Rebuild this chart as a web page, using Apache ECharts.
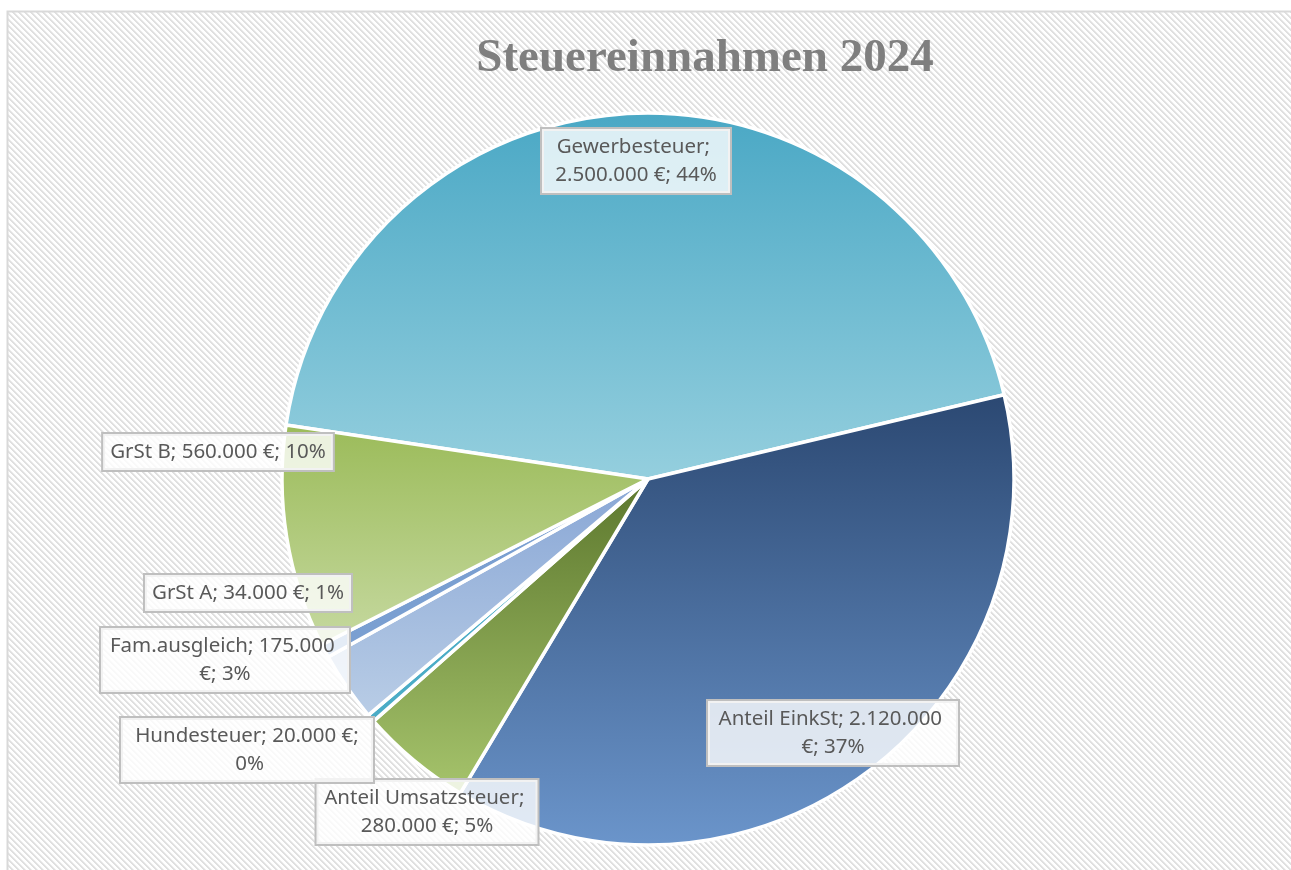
<html>
<head>
    <meta charset="utf-8" />
    <title>Steuereinnahmen 2024</title>
    <script src="https://cdn.jsdelivr.net/npm/echarts@6/dist/echarts.min.js"></script>
    <style>
        html, body { margin: 0; padding: 0; background: #fff; }
    </style>
</head>
<body>
    <div id="taxPie" style="width: 1291px;height:870px;"></div>
    <script type="text/javascript">
        // data
        var categories = ['Gewerbesteuer', 'Anteil EinkSt', 'Anteil Umsatzsteuer', 'Hundesteuer', 'Fam.ausgleich', 'GrSt A', 'GrSt B'];
        var amounts = [2500000, 2120000, 280000, 20000, 175000, 34000, 560000];
        var chartTitle = 'Steuereinnahmen 2024';

        // slice colours (top -> bottom of each slice)
        var topColors = ['#4aa8c5', '#2b4872', '#5c772d', '#4bacc6', '#88a6d5', '#7a9fd1', '#9bbb59'];
        var bottomColors = ['#95cfde', '#6b95cb', '#a6c46c', '#4bacc6', '#b9cde6', '#7a9fd1', '#c6d9a0'];

        // label box placement (centre) and wrap width
        var labelPos = [[636, 161], [833, 733], [427, 812], [247, 750], [225, 660], [248, 593], [218, 452]];
        var labelWrap = [174, 236, 207, 238, 234, null, null];

        var total = amounts.reduce(function (a, b) { return a + b; }, 0);

        function fmtEuro(v) {
            return String(v).replace(/\B(?=(\d{3})+(?!\d))/g, '.') + ' €';
        }

        // hatched background like the excel chart area
        function makeHatch() {
            var size = 6;
            var cv = document.createElement('canvas');
            cv.width = size; cv.height = size;
            var ctx = cv.getContext('2d');
            var img = ctx.createImageData(size, size);
            for (var y = 0; y < size; y++) {
                for (var x = 0; x < size; x++) {
                    var d = ((x - y) % size + size) % size;
                    var c = d < 2 ? 224 : (d == 2 ? 238 : 255);
                    var i = (y * size + x) * 4;
                    img.data[i] = c; img.data[i + 1] = c; img.data[i + 2] = c; img.data[i + 3] = 255;
                }
            }
            ctx.putImageData(img, 0, 0);
            return cv;
        }

        var pieData = categories.map(function (name, i) {
            var lbl = {};
            if (labelWrap[i]) {
                lbl.width = labelWrap[i];
                lbl.overflow = 'break';
            }
            return {
                name: name,
                value: amounts[i],
                itemStyle: {
                    color: {
                        type: 'linear', x: 0, y: 0, x2: 0, y2: 1,
                        colorStops: [
                            { offset: 0, color: topColors[i] },
                            { offset: 1, color: bottomColors[i] }
                        ]
                    }
                },
                label: lbl
            };
        });

        var chartDom = document.getElementById('taxPie');
        var taxChart = echarts.init(chartDom, null, { renderer: 'canvas' });
        var option;

        option = {
            backgroundColor: '#ffffff',
            animation: false,
            graphic: [{
                type: 'rect',
                z: -10,
                silent: true,
                shape: { x: 7.5, y: 11.5, width: 1300, height: 900 },
                style: {
                    fill: { image: makeHatch(), repeat: 'repeat' },
                    stroke: '#d9d9d9',
                    lineWidth: 2
                }
            }],
            title: {
                text: chartTitle,
                left: 700,
                top: 30,
                textAlign: 'center',
                textStyle: {
                    fontFamily: 'Liberation Serif',
                    fontWeight: 'bold',
                    fontSize: 47,
                    color: '#7f7f7f'
                }
            },
            series: [
                {
                    name: 'Steuereinnahmen',
                    type: 'pie',
                    center: [648, 479],
                    radius: 366,
                    startAngle: 171.5,
                    clockwise: true,
                    avoidLabelOverlap: false,
                    data: pieData,
                    itemStyle: {
                        borderColor: '#ffffff',
                        borderWidth: 3.5
                    },
                    label: {
                        show: true,
                        position: 'outside',
                        formatter: function (p) {
                            var pct = Math.round(p.value / total * 100);
                            return p.name + '; ' + fmtEuro(p.value) + '; ' + pct + '%';
                        },
                        fontFamily: 'Noto Sans',
                        fontSize: 20.5,
                        lineHeight: 28,
                        color: '#595959',
                        align: 'center',
                        backgroundColor: 'rgba(255,255,255,0.8)',
                        borderColor: '#bfbfbf',
                        borderWidth: 2,
                        padding: [4, 7]
                    },
                    labelLine: { show: false },
                    labelLayout: function (params) {
                        var p = labelPos[params.dataIndex];
                        return { x: p[0], y: p[1], align: 'center', verticalAlign: 'middle' };
                    },
                    emphasis: { disabled: true }
                }
            ]
        };
        option && taxChart.setOption(option);
    </script>
</body>
</html>
